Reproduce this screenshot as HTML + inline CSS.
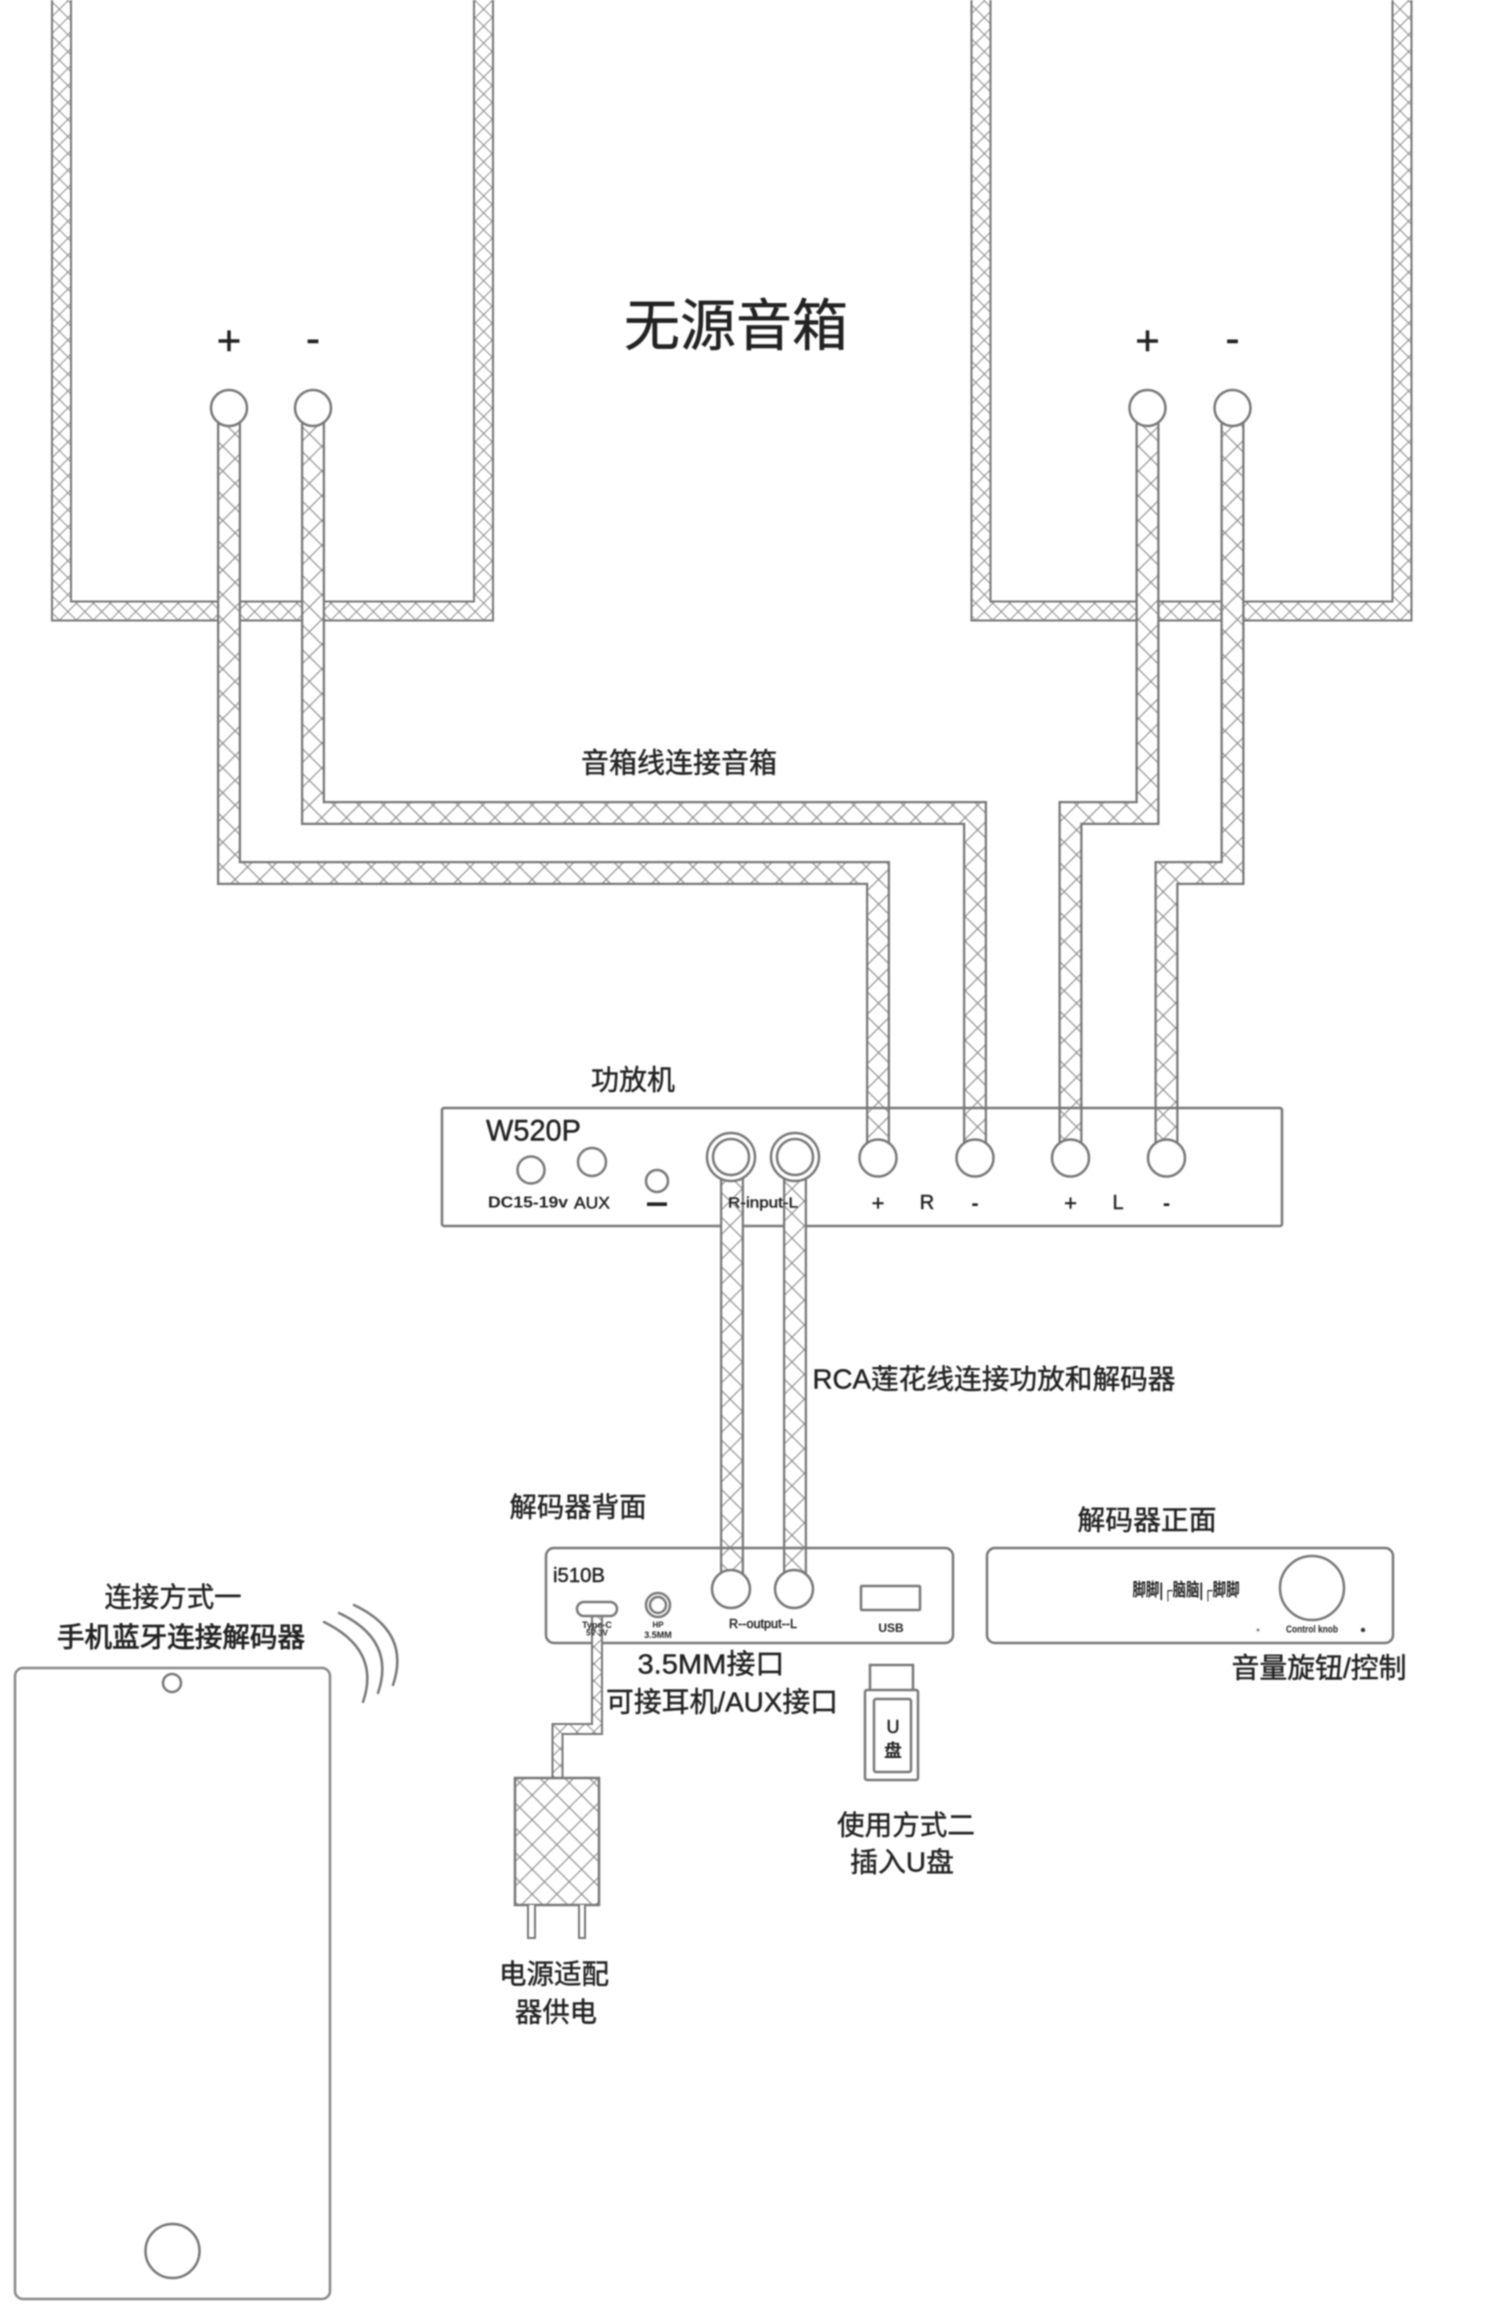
<!DOCTYPE html>
<html lang="zh">
<head>
<meta charset="utf-8">
<title>W520P wiring diagram</title>
<style>
html,body{margin:0;padding:0;background:#fff;width:1500px;height:2322px;overflow:hidden}
svg{display:block;filter:blur(0.7px)}
text{font-family:"Liberation Sans","Noto Sans CJK SC",sans-serif;fill:#222;stroke:#222;stroke-width:0.45;dominant-baseline:central;text-anchor:middle}
.b{font-weight:700;stroke-width:0}
.m{stroke-width:0.8}
.s{fill:#fff;stroke:#777;stroke-width:2.5}
.c{fill:none;stroke:#777;stroke-width:2.5;stroke-linecap:round}
</style>
</head>
<body>
<svg width="1500" height="2322" viewBox="0 0 1500 2322" xmlns="http://www.w3.org/2000/svg">
<defs>
<pattern id="h" width="17.5" height="17.5" patternUnits="userSpaceOnUse" patternTransform="rotate(45)">
<rect width="17.5" height="17.5" fill="#fff"/>
<path d="M0 0H17.5M0 0V17.5" stroke="#8a8a8a" stroke-width="2.2" fill="none"/>
</pattern>
<pattern id="h2" width="12" height="12" patternUnits="userSpaceOnUse" patternTransform="rotate(45)">
<rect width="12" height="12" fill="#fff"/>
<path d="M0 0H12M0 0V12" stroke="#8a8a8a" stroke-width="2" fill="none"/>
</pattern>
</defs>
<rect width="1500" height="2322" fill="#fff"/>

<!-- speakers -->
<g fill="none" stroke-linejoin="miter">
<path d="M61.5 -20V611H483.5V-20" stroke="#777" stroke-width="21"/>
<path d="M61.5 -20V611H483.5V-20" stroke="url(#h2)" stroke-width="17"/>
<path d="M981 -20V611H1402V-20" stroke="#777" stroke-width="21"/>
<path d="M981 -20V611H1402V-20" stroke="url(#h2)" stroke-width="17"/>
</g>

<!-- speaker and amp cables -->
<g fill="none" stroke-linejoin="miter">
<path d="M229 408V873H878V1158" stroke="#777" stroke-width="24"/>
<path d="M229 408V873H878V1158" stroke="url(#h)" stroke-width="19.500"/>
<path d="M313 408V813H975V1158" stroke="#777" stroke-width="24"/>
<path d="M313 408V813H975V1158" stroke="url(#h)" stroke-width="19.500"/>
<path d="M1147.5 408V813H1070.5V1158" stroke="#777" stroke-width="24"/>
<path d="M1147.5 408V813H1070.5V1158" stroke="url(#h)" stroke-width="19.500"/>
<path d="M1232.5 408V873H1166.5V1158" stroke="#777" stroke-width="24"/>
<path d="M1232.5 408V873H1166.5V1158" stroke="url(#h)" stroke-width="19.500"/>
</g>

<!-- speaker terminals -->
<circle class="s" cx="229" cy="408" r="18"/>
<circle class="s" cx="313" cy="408" r="18"/>
<circle class="s" cx="1147.500" cy="408" r="18"/>
<circle class="s" cx="1232.500" cy="408" r="18"/>
<text x="229" y="340" font-size="42">+</text>
<text x="313" y="338" font-size="42">-</text>
<text x="1147.500" y="340" font-size="42">+</text>
<text x="1232.500" y="338" font-size="42">-</text>
<text x="736" y="326" font-size="56" textLength="224" lengthAdjust="spacingAndGlyphs">无源音箱</text>
<text x="679" y="763" font-size="28" textLength="196" lengthAdjust="spacingAndGlyphs">音箱线连接音箱</text>

<!-- amplifier -->
<text x="633" y="1080" font-size="28" textLength="84" lengthAdjust="spacingAndGlyphs">功放机</text>
<rect x="442" y="1108" width="840" height="118" fill="none" stroke="#777" stroke-width="2.5" rx="2"/>
<g fill="none">
<path d="M732 1170V1590M795 1170V1590" stroke="#777" stroke-width="24"/>
<path d="M732 1170V1590M795 1170V1590" stroke="url(#h)" stroke-width="19.500"/>
</g>
<text x="486" y="1131" font-size="30" style="text-anchor:start" textLength="95" lengthAdjust="spacingAndGlyphs">W520P</text>
<circle class="s" cx="531" cy="1170" r="13.500"/>
<circle class="s" cx="592" cy="1162" r="14"/>
<circle class="s" cx="657" cy="1181" r="11"/>
<circle class="s" cx="731" cy="1157" r="24"/>
<circle class="s" cx="731" cy="1157" r="18"/>
<circle class="s" cx="795" cy="1157" r="24"/>
<circle class="s" cx="795" cy="1157" r="18"/>
<circle class="s" cx="878" cy="1158" r="18.500"/>
<circle class="s" cx="975" cy="1158" r="18.500"/>
<circle class="s" cx="1070.500" cy="1158" r="18.500"/>
<circle class="s" cx="1166.500" cy="1158" r="18.500"/>
<text x="528" y="1203" font-size="16" class="b" textLength="80" lengthAdjust="spacingAndGlyphs">DC15-19v</text>
<text x="592" y="1203" font-size="17" textLength="36" lengthAdjust="spacingAndGlyphs">AUX</text>
<text x="657" y="1202" font-size="12" class="b" textLength="20" lengthAdjust="spacingAndGlyphs">▬</text>
<text x="763" y="1203" font-size="15" textLength="70" lengthAdjust="spacingAndGlyphs">R-input-L</text>
<text x="878" y="1203" font-size="22">+</text>
<text x="927" y="1203" font-size="20" fill="#555">R</text>
<text x="975" y="1203" font-size="22" class="b">-</text>
<text x="1070.500" y="1203" font-size="22">+</text>
<text x="1118" y="1203" font-size="20">L</text>
<text x="1166.500" y="1203" font-size="22" class="b">-</text>

<text x="994" y="1379" font-size="27.500" textLength="363" lengthAdjust="spacingAndGlyphs">RCA莲花线连接功放和解码器</text>

<!-- decoder back -->
<text x="578" y="1507" font-size="27.500" textLength="137" lengthAdjust="spacingAndGlyphs">解码器背面</text>
<rect x="546" y="1548" width="407" height="95" rx="8" fill="none" stroke="#777" stroke-width="2.500"/>
<circle class="s" cx="731" cy="1589" r="19"/>
<circle class="s" cx="794" cy="1589" r="19"/>
<rect class="s" x="861" y="1586" width="59" height="24" rx="1"/>
<g fill="none">
<path d="M597 1616V1729H557.500V1778" stroke="#777" stroke-width="12"/>
<path d="M597 1616V1729H557.500V1778" stroke="url(#h2)" stroke-width="8"/>
</g>
<rect class="s" x="577" y="1602" width="40" height="14" rx="7"/>
<circle class="s" cx="658" cy="1605" r="12"/>
<circle class="s" cx="658" cy="1605" r="8"/>
<text x="553" y="1576" font-size="20" style="text-anchor:start" textLength="52" lengthAdjust="spacingAndGlyphs">i510B</text>
<text x="597" y="1625" font-size="9" class="b">Type-C</text>
<text x="597" y="1633" font-size="8" class="b">5V 3V</text>
<text x="658" y="1625" font-size="8" class="b">HP</text>
<text x="658" y="1635" font-size="9" class="b">3.5MM</text>
<text x="763" y="1624" font-size="12.500" textLength="68" lengthAdjust="spacingAndGlyphs">R--output--L</text>
<text x="891" y="1628" font-size="12" class="b">USB</text>
<text x="711" y="1664" font-size="28" textLength="147" lengthAdjust="spacingAndGlyphs">3.5MM接口</text>
<text x="722" y="1702" font-size="28" textLength="232" lengthAdjust="spacingAndGlyphs">可接耳机/AUX接口</text>

<!-- decoder front -->
<text x="1147" y="1520" font-size="27.500" textLength="139" lengthAdjust="spacingAndGlyphs">解码器正面</text>
<rect x="987" y="1548" width="406" height="95" rx="8" fill="none" stroke="#777" stroke-width="2.500"/>
<circle class="s" cx="1312" cy="1588" r="32"/>
<text x="1186" y="1590" font-size="18" class="b" textLength="107" lengthAdjust="spacingAndGlyphs">脚脚|┌脑脑|┌脚脚</text>
<text x="1312" y="1630" font-size="10" class="b" textLength="52" lengthAdjust="spacingAndGlyphs">Control knob</text>
<circle cx="1258" cy="1630" r="1.500" fill="#888"/>
<circle cx="1363" cy="1630" r="2.200" fill="#333"/>
<text x="1319" y="1668" font-size="28" textLength="175" lengthAdjust="spacingAndGlyphs">音量旋钮/控制</text>

<!-- usb disk -->
<rect class="s" x="870" y="1665" width="43" height="30"/>
<rect class="s" x="865" y="1690" width="53" height="90" rx="2"/>
<rect class="s" x="874" y="1699" width="37" height="73" rx="2"/>
<text x="893" y="1727" font-size="18">U</text>
<text x="893" y="1751" font-size="18" class="b">盘</text>
<text x="906" y="1825" font-size="27.500" textLength="138" lengthAdjust="spacingAndGlyphs">使用方式二</text>
<text x="902" y="1862" font-size="27.500" textLength="104" lengthAdjust="spacingAndGlyphs">插入U盘</text>

<!-- power adapter -->
<rect x="515" y="1778" width="84" height="127" fill="url(#h)" stroke="#777" stroke-width="2.500"/>
<path d="M528 1905V1938H535V1905M579 1905V1938H585V1905" fill="#fff" stroke="#777" stroke-width="2"/>
<text x="554" y="1974" font-size="27.500" textLength="110" lengthAdjust="spacingAndGlyphs">电源适配</text>
<text x="556" y="2012" font-size="27.500" textLength="82" lengthAdjust="spacingAndGlyphs">器供电</text>

<!-- phone -->
<text x="173" y="1597" font-size="27.500" textLength="137" lengthAdjust="spacingAndGlyphs">连接方式一</text>
<text x="181" y="1637" font-size="27.500" class="m" textLength="248" lengthAdjust="spacingAndGlyphs">手机蓝牙连接解码器</text>
<rect x="15" y="1668" width="315" height="631" rx="8" fill="none" stroke="#888" stroke-width="2.500"/>
<circle class="s" cx="172" cy="1683" r="9"/>
<circle class="s" cx="172.500" cy="2251" r="27"/>
<path class="c" d="M324 1622Q381 1650 363 1702"/>
<path class="c" d="M339 1613Q396 1640 378 1693"/>
<path class="c" d="M354 1605Q411 1632 393 1685"/>
</svg>
</body>
</html>
